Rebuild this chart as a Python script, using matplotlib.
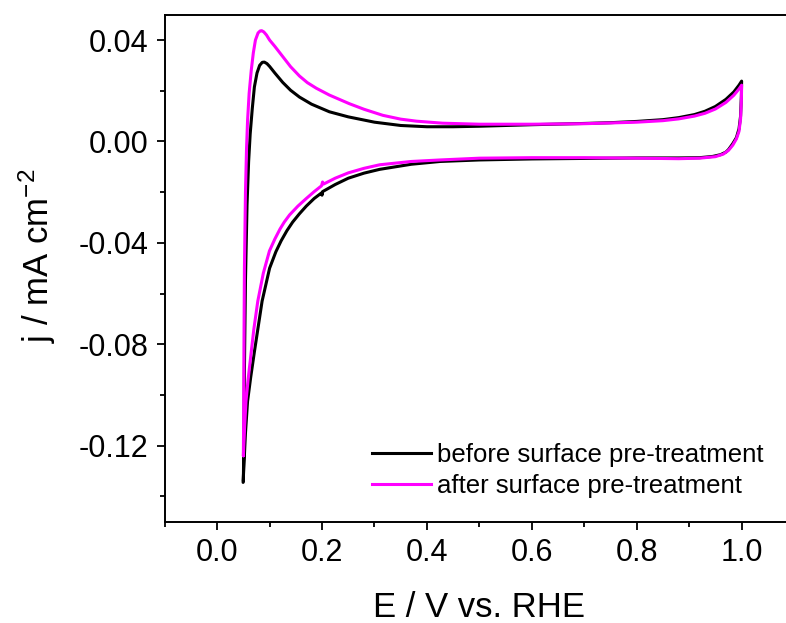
import matplotlib
matplotlib.use("Agg")
import matplotlib.pyplot as plt
from matplotlib.ticker import MultipleLocator, FormatStrFormatter
from matplotlib.lines import Line2D

plt.rcParams['font.family'] = ['Liberation Sans', 'DejaVu Sans']
plt.rcParams['mathtext.fontset'] = 'custom'
plt.rcParams['mathtext.rm'] = 'Liberation Sans'
plt.rcParams['mathtext.it'] = 'Liberation Sans'
plt.rcParams['axes.unicode_minus'] = False

# ---- data ----
# before surface pre-treatment: anodic (forward) scan
E_before_fwd = [0.050, 0.051, 0.052, 0.054, 0.057, 0.060, 0.063, 0.067, 0.071, 0.076, 0.081, 0.086,
                0.090, 0.095, 0.100, 0.110, 0.125, 0.140, 0.157, 0.180, 0.214, 0.25, 0.30, 0.35,
                0.40, 0.45, 0.50, 0.60, 0.70, 0.75, 0.80, 0.85, 0.88, 0.91, 0.93, 0.95, 0.97, 0.985, 0.995, 1.0]
j_before_fwd = [-0.134, -0.115, -0.090, -0.055, -0.025, -0.008, 0.003, 0.013, 0.0215, 0.027, 0.030, 0.0312,
                0.0313, 0.0307, 0.0296, 0.0270, 0.0233, 0.0202, 0.0175, 0.0147, 0.0117, 0.0097, 0.0076, 0.0063,
                0.0058, 0.0058, 0.0060, 0.0066, 0.0071, 0.0074, 0.0079, 0.0086, 0.0094, 0.0106, 0.0119, 0.0138, 0.0166, 0.0195, 0.0222, 0.0238]
# before surface pre-treatment: cathodic (backward) scan
E_before_bwd = [1.0, 0.9995, 0.998, 0.995, 0.990, 0.983, 0.975, 0.970, 0.960, 0.945, 0.92, 0.88,
                0.80, 0.70, 0.60, 0.50, 0.425, 0.37, 0.31, 0.28, 0.25, 0.225, 0.201, 0.200, 0.199, 0.185, 0.17,
                0.157, 0.144, 0.133, 0.122, 0.112, 0.100, 0.0857, 0.071, 0.064, 0.058, 0.054, 0.051, 0.0495]
j_before_bwd = [0.0238, 0.018, 0.010, 0.005, 0.0015, -0.0009, -0.0032, -0.0042, -0.0052, -0.0059, -0.0064, -0.0065,
                -0.0065, -0.0067, -0.0069, -0.0073, -0.0079, -0.0090, -0.0110, -0.0125, -0.0145, -0.0170, -0.0198, -0.0212, -0.0203,
                -0.0225, -0.0255, -0.0285, -0.0318, -0.0352, -0.0392, -0.0435, -0.0500, -0.0630, -0.0830, -0.0930, -0.1025,
                -0.1150, -0.1280, -0.1345]

# after surface pre-treatment: anodic (forward) scan
E_after_fwd = [0.050, 0.0505, 0.051, 0.052, 0.054, 0.056, 0.058, 0.061, 0.065, 0.069, 0.073, 0.078, 0.082,
               0.085, 0.089, 0.094, 0.100, 0.110, 0.125, 0.140, 0.157, 0.172, 0.189, 0.214, 0.252, 0.28, 0.316,
               0.35, 0.38, 0.43, 0.50, 0.60, 0.70, 0.80, 0.85, 0.88, 0.91, 0.93, 0.95, 0.97, 0.985, 0.995, 1.0]
j_after_fwd = [-0.124, -0.110, -0.085, -0.050, -0.020, -0.003, 0.0083, 0.019, 0.028, 0.035, 0.040, 0.0428, 0.0436,
               0.0437, 0.0432, 0.0420, 0.0400, 0.0375, 0.0335, 0.0295, 0.0258, 0.0232, 0.0210, 0.0183, 0.0149, 0.0127, 0.0103,
               0.0088, 0.0080, 0.0072, 0.0068, 0.0068, 0.0070, 0.0076, 0.0082, 0.0089, 0.0100, 0.0111, 0.0128, 0.0154, 0.0182, 0.0207, 0.0222]
# after surface pre-treatment: cathodic (backward) scan
E_after_bwd = [1.0, 0.9995, 0.998, 0.995, 0.990, 0.983, 0.975, 0.965, 0.950, 0.92, 0.88, 0.80,
               0.70, 0.60, 0.50, 0.425, 0.37, 0.31, 0.28, 0.25, 0.225, 0.203, 0.201, 0.199, 0.185, 0.17, 0.154, 0.138,
               0.128, 0.12, 0.11, 0.0997, 0.088, 0.0775, 0.070, 0.065, 0.059, 0.055, 0.052, 0.050]
j_after_bwd = [0.0222, 0.016, 0.009, 0.004, 0.001, -0.0015, -0.0035, -0.0050, -0.0060, -0.0066, -0.0068, -0.0066,
               -0.0064, -0.0064, -0.0066, -0.0073, -0.0079, -0.0092, -0.0106, -0.0124, -0.0145, -0.0168, -0.0160, -0.0175,
               -0.0198, -0.0225, -0.0255, -0.0290, -0.0318, -0.0345, -0.0385, -0.0432, -0.0520, -0.0630, -0.0740, -0.0830,
               -0.0940, -0.1025, -0.1140, -0.1240]

labels = ['before surface pre-treatment', 'after surface pre-treatment']
colors = ['black', '#FF00FF']

x_major = [0.0, 0.2, 0.4, 0.6, 0.8, 1.0]
y_major = [0.04, 0.00, -0.04, -0.08, -0.12]

# ---- figure ----
W, H = 786, 623
fig = plt.figure(figsize=(W / 100, H / 100), dpi=100)
ax = fig.add_axes([164.7 / W, (H - 521.7) / H, (W - 164.7) / W, (521.7 - 14.7) / H])

lw = 2.2
ax.plot(E_before_fwd + E_before_bwd, j_before_fwd + j_before_bwd, color=colors[0], lw=lw,
        solid_joinstyle='round', solid_capstyle='round')
ax.plot(E_after_fwd + E_after_bwd, j_after_fwd + j_after_bwd, color=colors[1], lw=lw,
        solid_joinstyle='round', solid_capstyle='round')

ax.set_xlim(-0.1, 1.0846)
ax.set_ylim(-0.15, 0.05)

ax.set_xticks(x_major)
ax.set_yticks(y_major)
ax.xaxis.set_minor_locator(MultipleLocator(0.1))
ax.yaxis.set_minor_locator(MultipleLocator(0.02))
ax.xaxis.set_major_formatter(FormatStrFormatter('%.1f'))
ax.yaxis.set_major_formatter(FormatStrFormatter('%.2f'))

ax.spines['right'].set_visible(False)
for s in ['left', 'bottom', 'top']:
    ax.spines[s].set_linewidth(1.4)

ax.tick_params(which='both', direction='out', top=False, right=False, width=1.3, labelsize=22)
ax.tick_params(which='major', length=5.8, pad=6)
ax.tick_params(which='minor', length=3.4)

ax.set_xlabel('E / V vs. RHE', fontsize=25)
ax.set_ylabel('j / mA cm$^{-2}$', fontsize=25)
ax.xaxis.set_label_coords(0.5065, -0.136)
ax.yaxis.set_label_coords(-0.172, 0.524)

handles = [Line2D([], [], color=c, lw=lw) for c in colors]
leg = ax.legend(handles, labels, loc='upper left', frameon=False, fontsize=18.5,
                bbox_to_anchor=(371.7 / W, (H - 443.0) / H), bbox_transform=fig.transFigure,
                borderpad=0, borderaxespad=0, handlelength=2.3, handletextpad=0.25,
                labelspacing=0.28)

fig.savefig('out.png', dpi=100)
